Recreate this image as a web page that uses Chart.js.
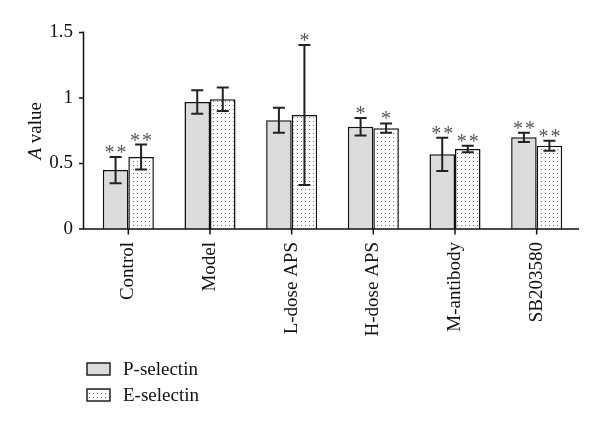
<!DOCTYPE html>
<html>
<head>
<meta charset="utf-8">
<script src="https://cdn.jsdelivr.net/npm/chart.js@4.4.1/dist/chart.umd.min.js"></script>
<style>
html,body{margin:0;padding:0;background:#fff;}
#wrap{position:relative;width:600px;height:427px;}
</style>
</head>
<body>
<div id="wrap"><canvas id="c" width="600" height="427"></canvas></div>
<script>
const categories = ["Control", "Model", "L-dose APS", "H-dose APS", "M-antibody", "SB203580"];
const seriesNames = ["P-selectin", "E-selectin"];
const pValues = [0.45, 0.97, 0.83, 0.78, 0.57, 0.70];
const pErrors = [0.10, 0.09, 0.095, 0.067, 0.127, 0.035];
const eValues = [0.55, 0.99, 0.87, 0.77, 0.61, 0.635];
const eErrors = [0.095, 0.09, 0.535, 0.036, 0.025, 0.038];
const pStars = ["**", "", "", "*", "**", "**"];
const eStars = ["**", "", "*", "*", "**", "**"];
const yTicks = [0, 0.5, 1, 1.5];
const yTickLabels = ["0", "0.5", "1", "1.5"];
const yTitleItalic = "A";
const yTitleRest = " value";

const FONT = "'Liberation Serif', 'Times New Roman', serif";

function makeDotPattern() {
  const pc = document.createElement('canvas');
  pc.width = 4; pc.height = 4;
  const g = pc.getContext('2d');
  g.fillStyle = '#ffffff';
  g.fillRect(0, 0, 4, 4);
  g.fillStyle = '#6a6a6a';
  g.fillRect(1, 1, 1, 1);
  return document.getElementById('c').getContext('2d').createPattern(pc, 'repeat');
}
const dotPattern = makeDotPattern();
const grayFill = '#dcdcdc';

const annotPlugin = {
  id: 'annot',
  afterDatasetsDraw(chart) {
    const ctx = chart.ctx;
    const ys = chart.scales.y;
    const errs = [pErrors, eErrors];
    const vals = [pValues, eValues];
    const stars = [pStars, eStars];
    ctx.save();
    for (let d = 0; d < 2; d++) {
      const meta = chart.getDatasetMeta(d);
      meta.data.forEach((el, i) => {
        const x = el.x;
        const top = ys.getPixelForValue(vals[d][i] + errs[d][i]);
        const bot = ys.getPixelForValue(vals[d][i] - errs[d][i]);
        ctx.strokeStyle = '#222';
        ctx.lineWidth = 2;
        ctx.beginPath();
        ctx.moveTo(x, top); ctx.lineTo(x, bot);
        ctx.moveTo(x - 6, top); ctx.lineTo(x + 6, top);
        ctx.moveTo(x - 6, bot); ctx.lineTo(x + 6, bot);
        ctx.stroke();
        const s = stars[d][i];
        if (s) {
          ctx.fillStyle = '#555';
          ctx.font = '20px ' + FONT;
          ctx.textAlign = 'center';
          ctx.textBaseline = 'alphabetic';
          const by = top + 2;
          if (s.length === 2) {
            ctx.fillText('*', x - 6, by);
            ctx.fillText('*', x + 6, by);
          } else {
            ctx.fillText('*', x, by);
          }
        }
      });
    }
    ctx.restore();
  },
  afterDraw(chart) {
    const ctx = chart.ctx;
    const a = chart.chartArea;
    const ys = chart.scales.y;
    const xs = chart.scales.x;
    const axX = a.left - 4;
    ctx.save();
    ctx.strokeStyle = '#111';
    ctx.lineWidth = 1.5;
    ctx.beginPath();
    ctx.moveTo(axX, a.top - 1);
    ctx.lineTo(axX, a.bottom);
    ctx.lineTo(a.right + 1.5, a.bottom);
    yTicks.forEach(v => {
      const y = ys.getPixelForValue(v);
      ctx.moveTo(axX - 4.5, y); ctx.lineTo(axX, y);
    });
    categories.forEach((c, i) => {
      const x = xs.getPixelForValue(i);
      ctx.moveTo(x, a.bottom); ctx.lineTo(x, a.bottom + 5.5);
    });
    ctx.stroke();
    // y-axis title with italic A
    ctx.save();
    ctx.translate(36, (a.top + a.bottom) / 2);
    ctx.rotate(-Math.PI / 2);
    ctx.fillStyle = '#111';
    ctx.textBaseline = 'middle';
    ctx.textAlign = 'left';
    ctx.font = 'italic 19px ' + FONT;
    const w1 = ctx.measureText(yTitleItalic).width;
    ctx.font = '19px ' + FONT;
    const w2 = ctx.measureText(yTitleRest).width;
    const startX = -(w1 + w2) / 2;
    ctx.font = 'italic 19px ' + FONT;
    ctx.fillText(yTitleItalic, startX, 0);
    ctx.font = '19px ' + FONT;
    ctx.fillText(yTitleRest, startX + w1, 0);
    ctx.restore();
    // legend
    const items = [
      {label: seriesNames[0], fill: grayFill, y: 363},
      {label: seriesNames[1], fill: dotPattern, y: 389}
    ];
    items.forEach(it => {
      ctx.fillStyle = it.fill;
      ctx.fillRect(87, it.y, 23, 12);
      ctx.strokeStyle = '#222';
      ctx.lineWidth = 1.5;
      ctx.strokeRect(87, it.y, 23, 12);
      ctx.fillStyle = '#111';
      ctx.font = '19px ' + FONT;
      ctx.textAlign = 'left';
      ctx.textBaseline = 'alphabetic';
      ctx.fillText(it.label, 123, it.y + 12);
    });
    ctx.restore();
  }
};

new Chart(document.getElementById('c'), {
  type: 'bar',
  data: {
    labels: categories,
    datasets: [
      {label: seriesNames[0], data: pValues, backgroundColor: grayFill, borderColor: '#111', borderWidth: 1.5, borderSkipped: 'bottom'},
      {label: seriesNames[1], data: eValues, backgroundColor: dotPattern, borderColor: '#111', borderWidth: 1.5, borderSkipped: 'bottom'}
    ]
  },
  options: {
    responsive: false,
    animation: false,
    devicePixelRatio: 1,
    layout: {padding: {left: 0, right: 22.5, top: 32.5, bottom: 0}},
    plugins: {legend: {display: false}, tooltip: {enabled: false}},
    datasets: {bar: {categoryPercentage: 0.625, barPercentage: 1.0}},
    scales: {
      x: {
        grid: {display: false, drawTicks: false},
        border: {display: false},
        ticks: {
          color: '#111',
          font: {family: FONT, size: 19},
          minRotation: 90, maxRotation: 90,
          padding: 13,
          autoSkip: false
        },
        afterFit(s) { s.height = 198; }
      },
      y: {
        min: 0, max: 1.5,
        grid: {display: false, drawTicks: false},
        border: {display: false},
        afterBuildTicks(s) { s.ticks = yTicks.map(v => ({value: v})); },
        ticks: {
          color: '#111',
          font: {family: FONT, size: 19},
          padding: 14.5,
          callback(value) {
            const i = yTicks.indexOf(value);
            return i >= 0 ? yTickLabels[i] : '';
          }
        },
        title: {display: false},
        afterFit(s) { s.width = 87.5; }
      }
    }
  },
  plugins: [annotPlugin]
});
</script>
</body>
</html>
